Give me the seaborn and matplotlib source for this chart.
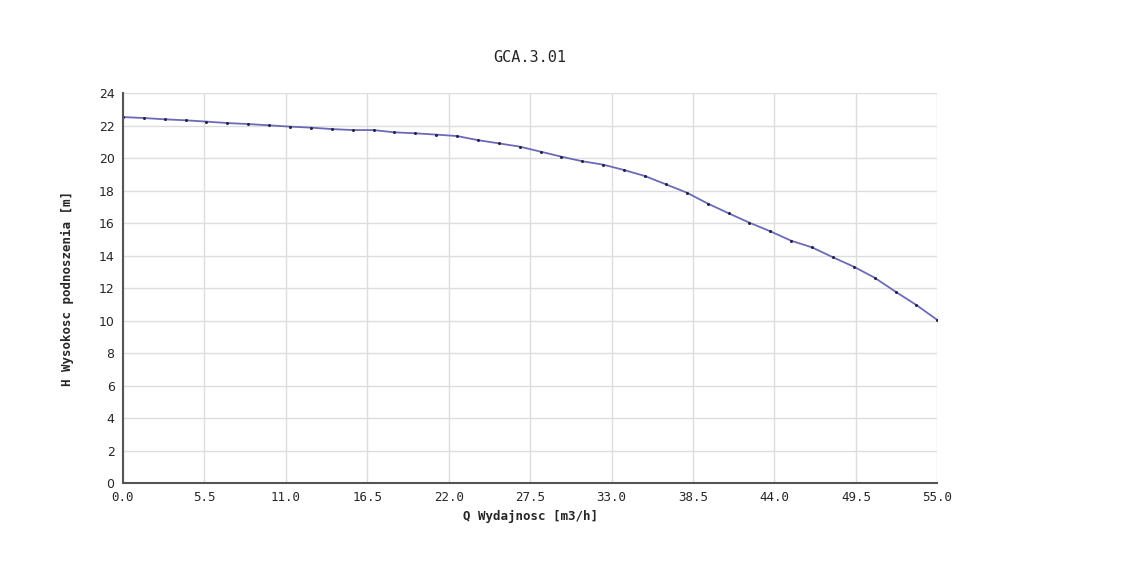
import numpy as np
import pandas as pd
import matplotlib
matplotlib.use('Agg')
import matplotlib.pyplot as plt
import seaborn as sns

# Pump curve GCA.3.01
q_start = 0.0
q_end = 55.0
n_points = 40
h_values = [22.52, 22.46, 22.38, 22.32, 22.24, 22.15, 22.09, 22.01, 21.93, 21.87,
            21.78, 21.72, 21.72, 21.58, 21.52, 21.44, 21.35, 21.10, 20.90, 20.70,
            20.39, 20.08, 19.80, 19.59, 19.26, 18.89, 18.38, 17.87, 17.20, 16.60,
            16.02, 15.49, 14.91, 14.50, 13.89, 13.31, 12.63, 11.77, 10.95, 10.03]
x_ticks = [0.0, 5.5, 11.0, 16.5, 22.0, 27.5, 33.0, 38.5, 44.0, 49.5, 55.0]
y_ticks = [0, 2, 4, 6, 8, 10, 12, 14, 16, 18, 20, 22, 24]

df = pd.DataFrame({'Q': np.linspace(q_start, q_end, n_points), 'H': h_values})

sns.set_style('white')
fig = plt.figure(figsize=(11.28, 5.64), dpi=100)
ax = fig.add_axes([0.109, 0.1436, 0.722, 0.6915])

sns.lineplot(x='Q', y='H', data=df, ax=ax, color='#6a6ab8', linewidth=1.3,
             marker='o', markersize=1.4, markerfacecolor='#222244', markeredgecolor='#222244')

ax.set_xlim(q_start, q_end)
ax.set_ylim(0, 24)
ax.set_xticks(x_ticks)
ax.set_xticklabels(['%.1f' % t for t in x_ticks], family='DejaVu Sans Mono', fontsize=9)
ax.set_yticks(y_ticks)
ax.set_yticklabels([str(t) for t in y_ticks], family='DejaVu Sans', fontsize=9)
ax.grid(True, color='#dddddd', linewidth=1)
ax.tick_params(direction='in', length=6, color='#444444', width=1, pad=6)
for s in ['top', 'right']:
    ax.spines[s].set_visible(False)
for s in ['left', 'bottom']:
    ax.spines[s].set_color('#555555')
    ax.spines[s].set_linewidth(1.5)

ax.set_xlabel('Q Wydajnosc [m3/h]', family='DejaVu Sans Mono', fontweight='bold', fontsize=9, labelpad=4)
ax.set_ylabel('H Wysokosc podnoszenia [m]', family='DejaVu Sans Mono', fontweight='bold', fontsize=9, labelpad=18)
ax.set_title('GCA.3.01', family='DejaVu Sans Mono', fontsize=11, pad=22)

fig.savefig('out.png', dpi=100)
